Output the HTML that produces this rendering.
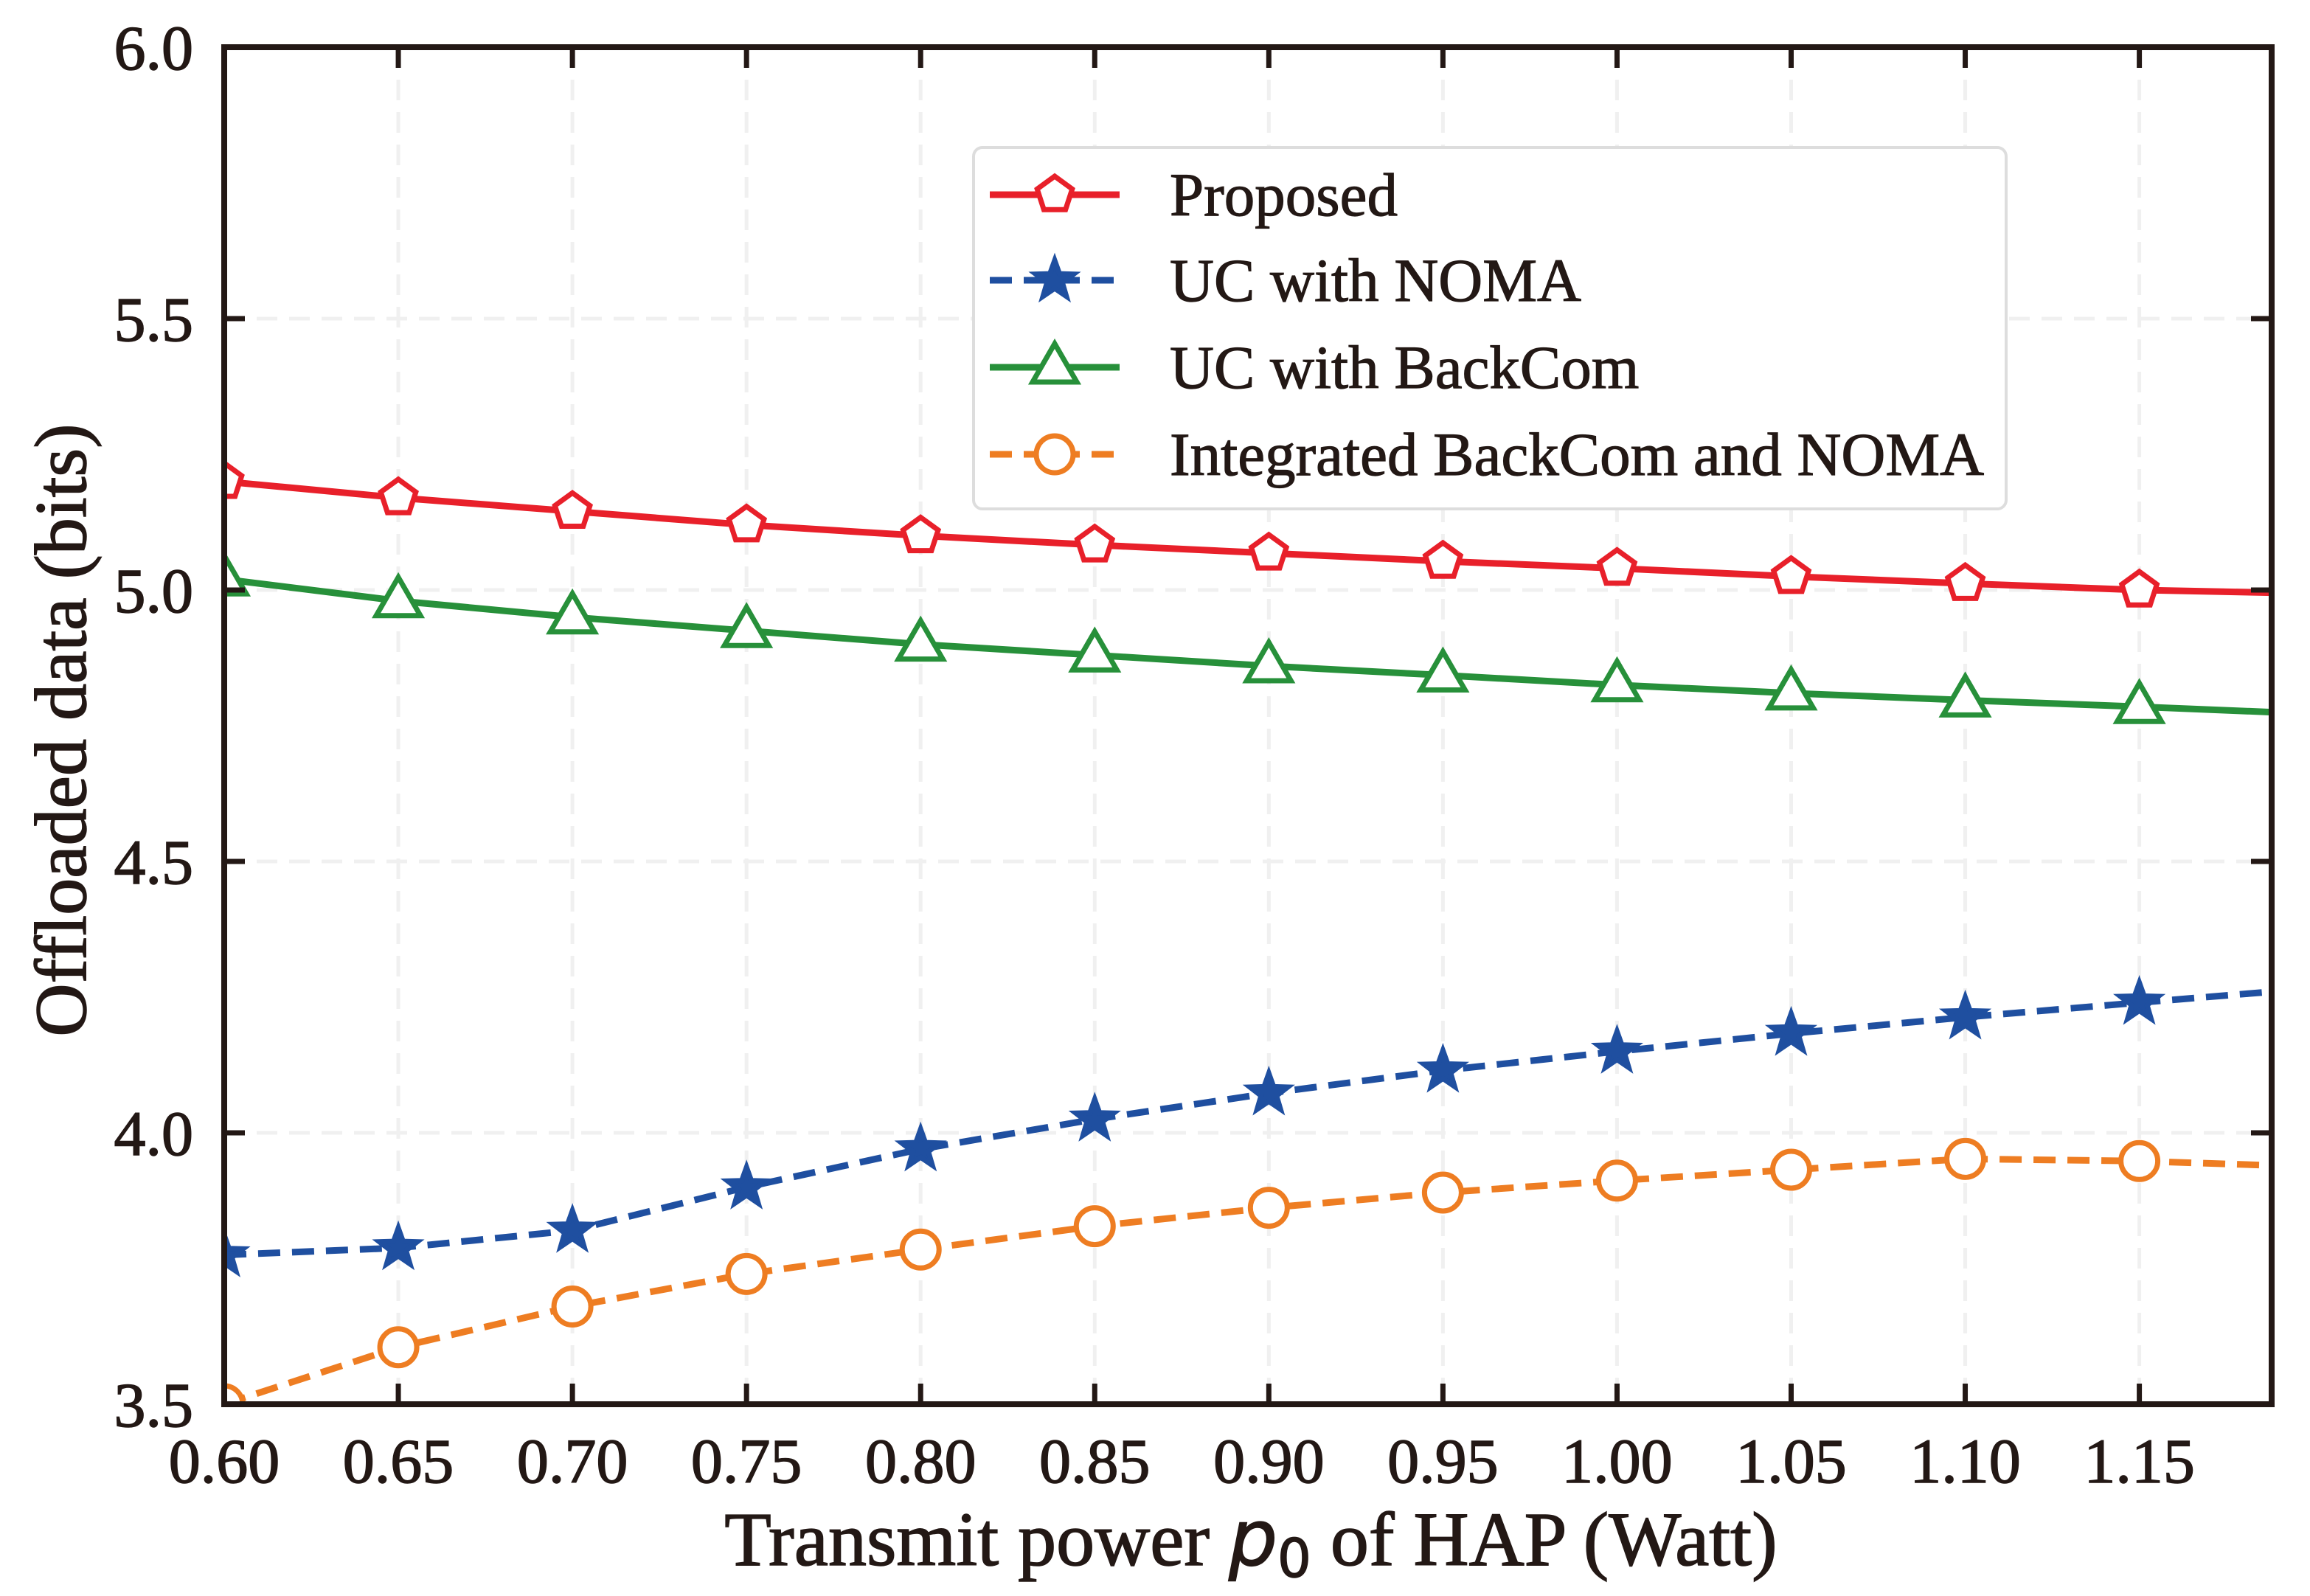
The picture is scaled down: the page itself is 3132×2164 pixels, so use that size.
<!DOCTYPE html>
<html><head><meta charset="utf-8">
<style>
html,body{margin:0;padding:0;background:#fff;}
svg{display:block;font-family:"Liberation Serif",serif;}
</style></head>
<body>
<svg id="chart" width="3132" height="2164" viewBox="0 0 3132 2164" xmlns="http://www.w3.org/2000/svg">
<g id="grid"></g>
<g id="series"></g>
<rect x="304" y="64" width="2776" height="1840" fill="none" stroke="#231815" stroke-width="8"/>
<g id="ticks"></g>
<text transform="translate(116,990) rotate(-90)" text-anchor="middle" font-size="100" fill="#231815" stroke="#231815" stroke-width="1.5">Offloaded data (bits)</text>
<text x="1696" y="2122" text-anchor="middle" font-size="104" fill="#231815" stroke="#231815" stroke-width="1.5">Transmit power <tspan font-family="'DejaVu Sans',sans-serif" font-style="italic">p</tspan><tspan font-family="'DejaVu Sans',sans-serif" font-size="72" dy="16">0</tspan><tspan dy="-16"> of HAP (Watt)</tspan></text>
<g>
<rect x="1320" y="200" width="1400" height="490" rx="12" fill="#fff" stroke="#ddd" stroke-width="4"/>
<g id="legend-items"></g>
</g>
</svg>
<script>
const xs = [0.60,0.65,0.70,0.75,0.80,0.85,0.90,0.95,1.00,1.05,1.10,1.15,1.188];
const proposed = [5.20,5.17,5.145,5.12,5.10,5.083,5.068,5.053,5.04,5.025,5.012,5.0,4.995];
const ucNoma = [3.775,3.788,3.82,3.90,3.97,4.025,4.073,4.115,4.15,4.183,4.213,4.24,4.26];
const ucBackcom = [5.02,4.98,4.95,4.925,4.90,4.88,4.86,4.843,4.825,4.81,4.797,4.785,4.775];
const integrated = [3.50,3.605,3.68,3.74,3.785,3.828,3.862,3.89,3.912,3.932,3.952,3.948,3.94];
const xTicks = [0.60,0.65,0.70,0.75,0.80,0.85,0.90,0.95,1.00,1.05,1.10,1.15];
const xTickLabels = ["0.60","0.65","0.70","0.75","0.80","0.85","0.90","0.95","1.00","1.05","1.10","1.15"];
const yTicks = [3.5,4.0,4.5,5.0,5.5,6.0];
const yTickLabels = ["3.5","4.0","4.5","5.0","5.5","6.0"];
const legendLabels = ["Proposed","UC with NOMA","UC with BackCom","Integrated BackCom and NOMA"];

const L=304,R=3080,T=64,B=1904,XMIN=0.60,XMAX=1.188,YMIN=3.5,YMAX=6.0;
const sx=v=>L+(v-XMIN)/(XMAX-XMIN)*(R-L);
const sy=v=>B-(v-YMIN)/(YMAX-YMIN)*(B-T);
const NS="http://www.w3.org/2000/svg";
function mk(tag,attrs,parent){const e=document.createElementNS(NS,tag);for(const k in attrs)e.setAttribute(k,attrs[k]);parent.appendChild(e);return e;}
const grid=document.getElementById('grid'),ticks=document.getElementById('ticks'),ser=document.getElementById('series');
xTicks.forEach((v,i)=>{
  const x=sx(v);
  const g=mk('line',{x1:x,x2:x,y1:T,y2:B,stroke:'#f0f0f0','stroke-width':5,'stroke-dasharray':'28,16'},grid);
  
  
  const t1=mk('line',{x1:x,x2:x,y1:B,y2:B-28,stroke:'#231815','stroke-width':7},ticks);
  
  
  const t2=mk('line',{x1:x,x2:x,y1:T,y2:T+28,stroke:'#231815','stroke-width':7},ticks);
  
  
  const lb=mk('text',{x:x,y:2010,'text-anchor':'middle','font-size':86,fill:'#231815',stroke:'#231815','stroke-width':1.5},ticks);
  lb.textContent=xTickLabels[i];
  
  
});
yTicks.forEach((v,i)=>{
  const y=sy(v);
  if(i>0&&i<yTicks.length-1){
    const g=mk('line',{x1:L,x2:R,y1:y,y2:y,stroke:'#f0f0f0','stroke-width':5,'stroke-dasharray':'28,16'},grid);
    
    
  }
  const t1=mk('line',{x1:L,x2:L+28,y1:y,y2:y,stroke:'#231815','stroke-width':7},ticks);
  
  
  const t2=mk('line',{x1:R,x2:R-28,y1:y,y2:y,stroke:'#231815','stroke-width':7},ticks);
  
  
  const lb=mk('text',{x:262,y:y+30,'text-anchor':'end','font-size':86,fill:'#231815',stroke:'#231815','stroke-width':1.5},ticks);
  lb.textContent=yTickLabels[i];
  
  
});
function marker(type,cx,cy,color,parent){
  let e;
  if(type==='circle'){e=mk('circle',{cx:cx,cy:cy,r:25,fill:'#fff',stroke:color,'stroke-width':7},parent);}
  else{
    let pts=[];
    if(type==='pent'){for(let k=0;k<5;k++){const a=-Math.PI/2+k*2*Math.PI/5;pts.push([cx+25*Math.cos(a),cy+25*Math.sin(a)]);}}
    if(type==='tri'){pts=[[cx,cy-32],[cx+30,cy+20],[cx-30,cy+20]];}
    if(type==='star'){for(let k=0;k<10;k++){const a=-Math.PI/2+k*Math.PI/5;const r=k%2?11:27;pts.push([cx+r*Math.cos(a),cy+r*Math.sin(a)]);}}
    e=mk('polygon',{points:pts.map(p=>p.join(',')).join(' '),fill:type==='star'?color:'#fff',stroke:color,'stroke-width':7,'stroke-linejoin':'miter'},parent);
  }
  return e;
}
const defs=[
 {vals:proposed,color:'#e8202a',dash:'',m:'pent',name:'proposed'},
 {vals:ucNoma,color:'#1f4fa0',dash:'30,16',m:'star',name:'uc-with-noma'},
 {vals:ucBackcom,color:'#27903a',dash:'',m:'tri',name:'uc-with-backcom'},
 {vals:integrated,color:'#ee7d22',dash:'30,16',m:'circle',name:'integrated-backcom-noma'}
];
const clip=mk('clipPath',{id:'pc'},document.getElementById('chart'));
mk('rect',{x:L,y:T,width:R-L,height:B-T},clip);
defs.forEach(d=>{
  const g=mk('g',{'clip-path':'url(#pc)'},ser);
  
  
  const p=mk('polyline',{points:xs.map((x,i)=>sx(x)+','+sy(d.vals[i])).join(' '),fill:'none',stroke:d.color,'stroke-width':9,'stroke-dasharray':d.dash},g);
  
  
  xs.forEach((x,i)=>{
    if(i>=xTicks.length)return;
    const m=marker(d.m,sx(x),sy(d.vals[i]),d.color,g);
    
    
  });
});
const li=document.getElementById('legend-items');
const ly=[264,380,498,616];
defs.forEach((d,i)=>{
  const g=mk('g',{},li);
  
  
  mk('line',{x1:1342,x2:1518,y1:ly[i],y2:ly[i],stroke:d.color,'stroke-width':9,'stroke-dasharray':d.dash},g);
  marker(d.m,1430,ly[i],d.color,g);
  const t=mk('text',{x:1586,y:ly[i]+28,'font-size':83,fill:'#231815',stroke:'#231815','stroke-width':1.2},g);
  t.textContent=legendLabels[i];
});
</script>
</body></html>
